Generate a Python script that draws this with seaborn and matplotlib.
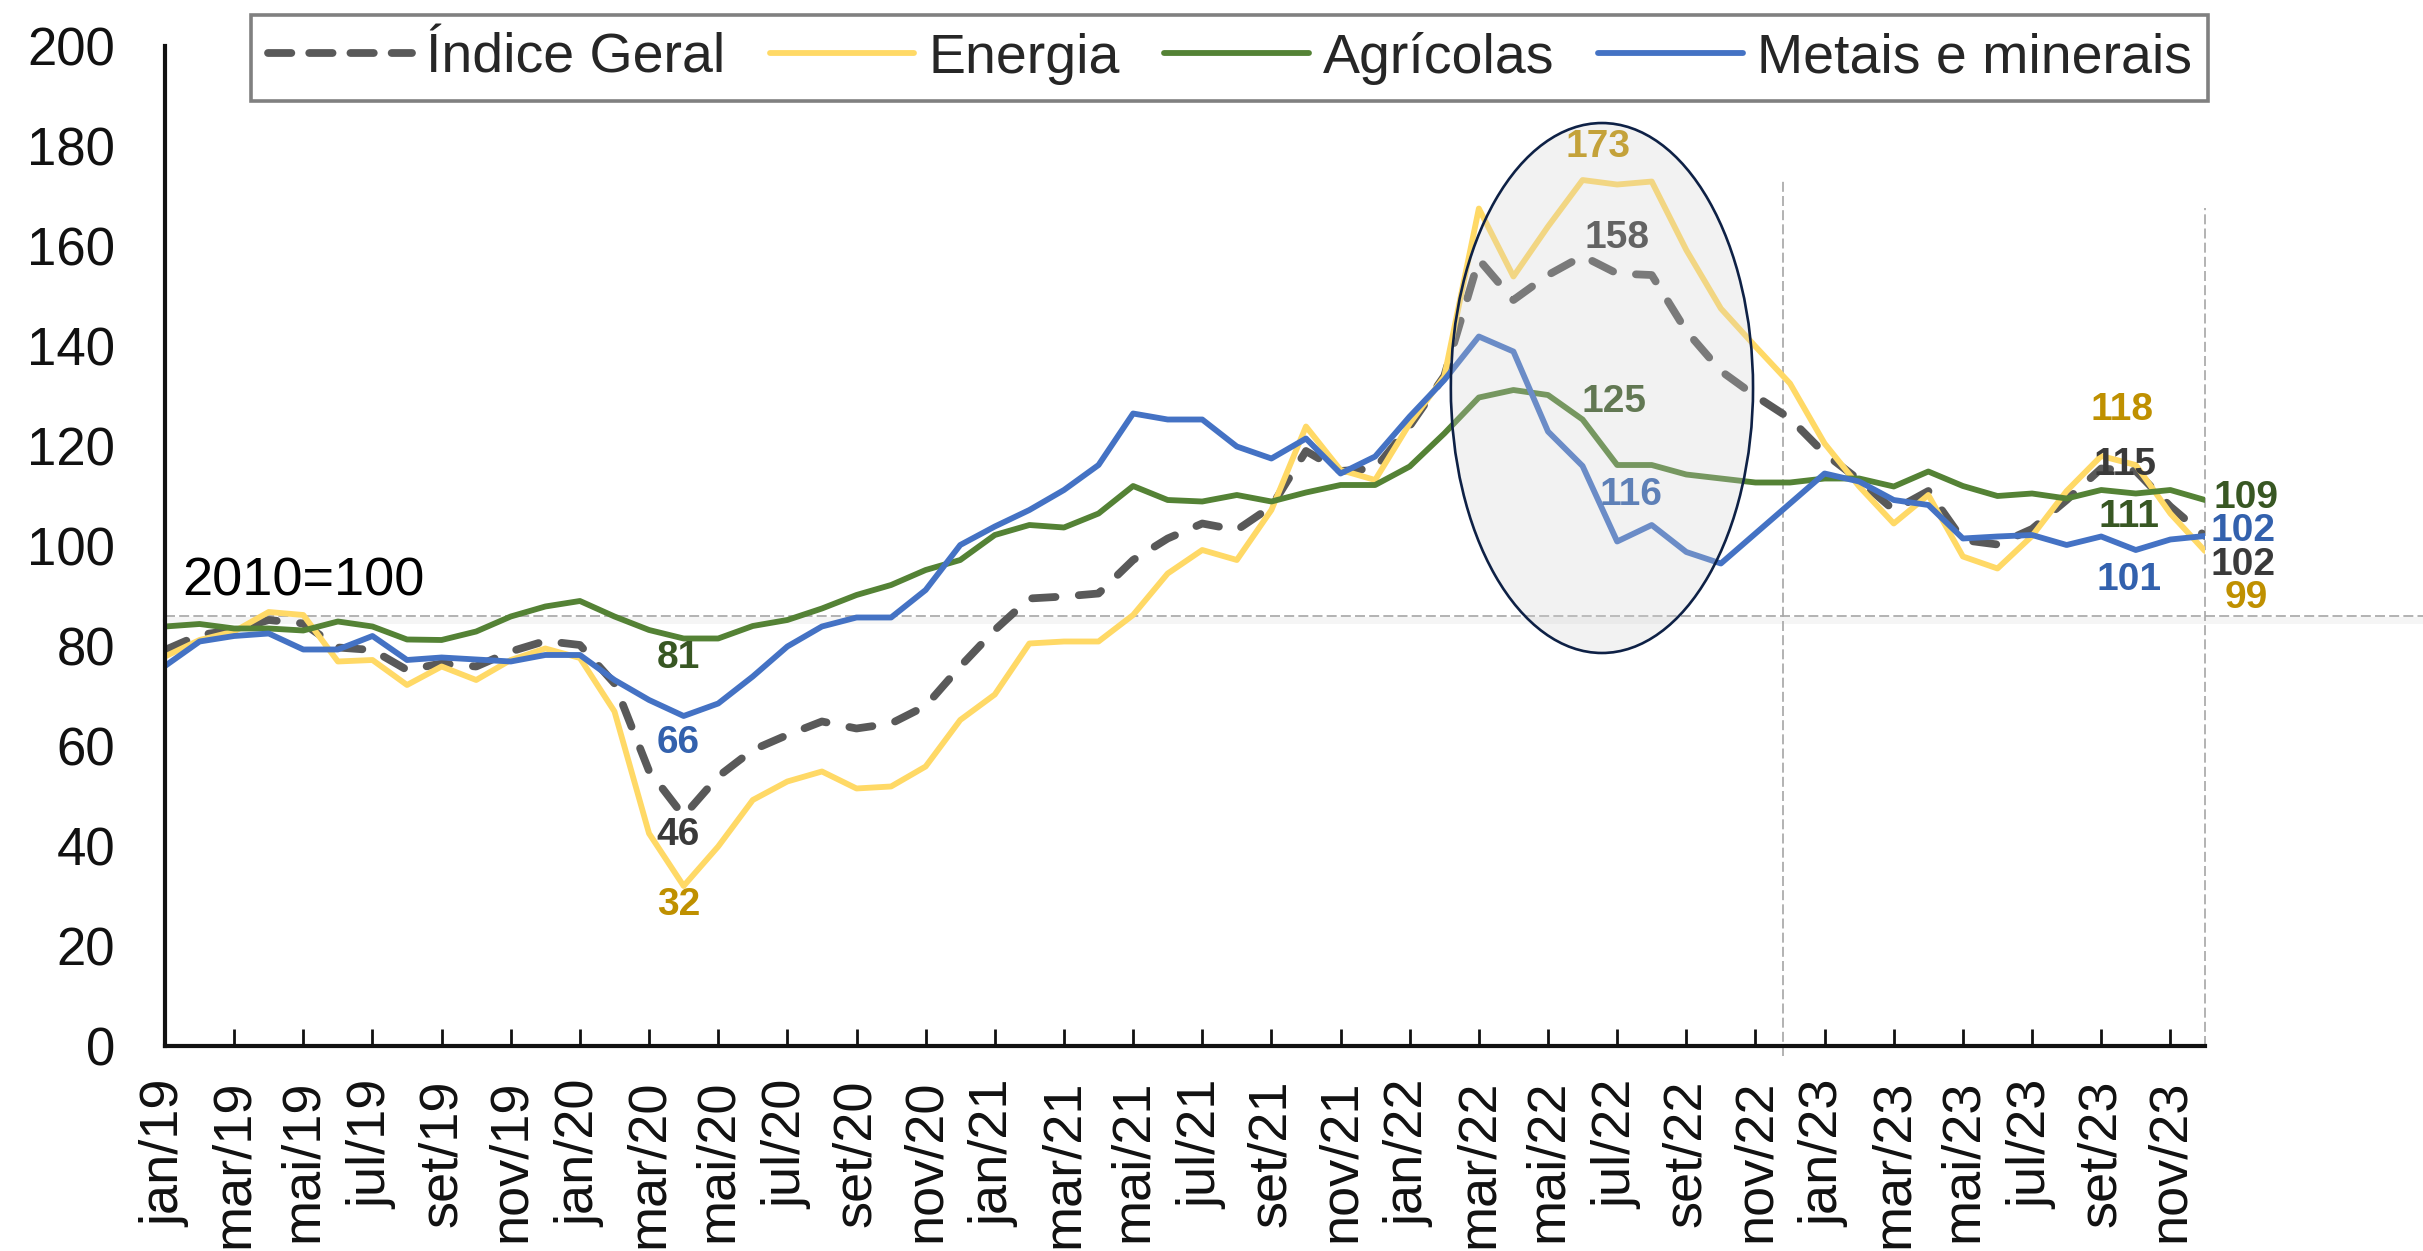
import numpy as np
import pandas as pd
import seaborn as sns
import matplotlib.pyplot as plt
from matplotlib.patches import Ellipse
from matplotlib.lines import Line2D

# monthly series jan/2019 .. dez/2023 (2010=100)
MESES = ["jan", "fev", "mar", "abr", "mai", "jun", "jul", "ago", "set", "out", "nov", "dez"]
ANOS = ["19", "20", "21", "22", "23"]
periodos = [f"{m}/{a}" for a in ANOS for m in MESES]

indice_geral = [
    79.2, 82.2, 83.2, 85.2, 84.5, 79.7, 79.2, 75.2, 76.5, 75.9, 78.9, 81.0,
    80.2, 72.5, 55.0, 46.0, 53.9, 59.2, 62.2, 64.9, 63.5, 64.5, 68.0, 75.9,
    83.2, 89.5, 89.9, 90.5, 97.2, 101.5, 104.5, 103.2, 107.9, 119.0, 115.0, 115.5,
    124.0, 134.0, 157.3, 149.2, 154.2, 158.0, 154.5, 154.2, 143.0, 135.0, 130.0, 125.5,
    118.5, 113.2, 107.2, 111.0, 101.2, 100.3, 103.4, 109.2, 115.5, 115.0, 107.9, 102.0,
]
energia = [
    77.9, 81.2, 82.9, 86.8, 86.2, 76.9, 77.2, 72.2, 75.9, 73.2, 77.2, 79.5,
    77.6, 66.9, 42.5, 32.0, 39.9, 49.2, 52.9, 54.9, 51.5, 51.9, 55.9, 65.2,
    70.3, 80.5, 80.9, 80.9, 86.2, 94.5, 99.2, 97.2, 107.2, 123.9, 115.2, 113.2,
    124.5, 133.9, 167.5, 153.9, 163.9, 173.2, 172.3, 172.9, 159.2, 147.5, 139.9, 132.5,
    120.5, 111.9, 104.5, 110.2, 97.9, 95.5, 102.0, 111.0, 118.0, 116.2, 106.5, 99.0,
]
agricolas = [
    83.9, 84.4, 83.5, 83.5, 83.1, 84.9, 83.9, 81.3, 81.2, 82.9, 85.9, 87.9,
    89.0, 85.9, 83.2, 81.5, 81.5, 84.0, 85.2, 87.5, 90.2, 92.2, 95.2, 97.2,
    102.2, 104.2, 103.7, 106.5, 112.0, 109.2, 108.9, 110.2, 108.9, 110.7, 112.2, 112.2,
    115.9, 122.5, 129.7, 131.2, 130.2, 125.3, 116.2, 116.2, 114.3, 113.5, 112.7, 112.7,
    113.5, 113.5, 111.9, 114.9, 112.0, 110.0, 110.5, 109.5, 111.2, 110.5, 111.2, 109.2,
]
metais = [
    76.0, 80.9, 82.0, 82.5, 79.3, 79.3, 82.0, 77.2, 77.7, 77.3, 76.9, 78.2,
    78.2, 73.2, 69.2, 66.0, 68.5, 73.9, 79.9, 83.9, 85.7, 85.7, 91.2, 100.2,
    103.9, 107.2, 111.2, 116.2, 126.5, 125.3, 125.3, 119.9, 117.5, 121.5, 114.5, 117.9,
    125.9, 133.2, 141.9, 138.9, 122.9, 116.0, 100.9, 104.2, 98.8, 96.5, 102.5, 108.5,
    114.5, 112.9, 109.2, 108.2, 101.5, 101.9, 102.2, 100.2, 101.9, 99.2, 101.3, 102.0,
]

SERIES = ["Índice Geral", "Energia", "Agrícolas", "Metais e minerais"]
CORES = {"Índice Geral": "#595959", "Energia": "#FFD966",
         "Agrícolas": "#548235", "Metais e minerais": "#4472C4"}
CORES_ROTULO = {"Índice Geral": "#3a3a3a", "Energia": "#BF9000",
                "Agrícolas": "#385723", "Metais e minerais": "#3361AD"}

# highlighted values: (series, value, label x, label y)
rotulos = [
    ("Agrícolas", 81, 14.85, 77.6),
    ("Metais e minerais", 66, 14.85, 60.6),
    ("Índice Geral", 46, 14.85, 42.2),
    ("Energia", 32, 14.85, 28.2),
    ("Energia", 173, 41.45, 179.8),
    ("Índice Geral", 158, 42.0, 161.6),
    ("Agrícolas", 125, 41.9, 128.8),
    ("Metais e minerais", 116, 42.4, 110.2),
    ("Energia", 118, 56.6, 127.2),
    ("Índice Geral", 115, 56.7, 116.2),
    ("Agrícolas", 111, 56.8, 105.8),
    ("Metais e minerais", 101, 56.8, 93.2),
    ("Agrícolas", 109, 60.2, 109.6),
    ("Metais e minerais", 102, 60.1, 103.0),
    ("Índice Geral", 102, 60.1, 96.2),
    ("Energia", 99, 60.2, 89.6),
]

df = pd.DataFrame({
    "t": np.tile(np.arange(len(periodos)), 4),
    "serie": np.repeat(SERIES, len(periodos)),
    "valor": indice_geral + energia + agricolas + metais,
})

sns.set_theme(style="white")
plt.rcParams["font.family"] = ["Liberation Sans", "DejaVu Sans"]

fig, ax = plt.subplots(figsize=(24.23, 12.51), dpi=100)
fig.subplots_adjust(left=0.0681, right=0.910, bottom=0.1639, top=0.9632)

LW = 4.2
LW_DASH = 5.6
sns.lineplot(
    data=df, x="t", y="valor", hue="serie", hue_order=SERIES,
    palette=CORES, style="serie", style_order=SERIES,
    dashes={"Índice Geral": (3, 3), "Energia": "", "Agrícolas": "", "Metais e minerais": ""},
    linewidth=LW, legend=False, ax=ax,
)
for ln in ax.lines:
    if ln.get_color().lower() == CORES["Índice Geral"].lower():
        ln.set_linewidth(LW_DASH)
        ln.set_dash_capstyle("round")

# reference lines
ref = dict(color="#a6a6a6", lw=1.2, ls=(0, (6, 2.5)), clip_on=False)
ax.plot([0, 1.107], [85.2, 85.2], color="black", alpha=0.04, lw=5,
        transform=ax.get_yaxis_transform(), clip_on=False, zorder=1)
ax.plot([0, 1.107], [86, 86], transform=ax.get_yaxis_transform(), zorder=1.5, **ref)
ax.plot([46.8, 46.8], [-2, 173], zorder=1.5, **ref)
ax.plot([59, 59], [0, 167.6], zorder=1.5, **ref)

for serie, val, lx, ly in rotulos:
    ax.text(lx, ly, f"{val}", color=CORES_ROTULO[serie], fontsize=28,
            fontweight="bold", ha="center", va="center", zorder=4)

ax.text(0.5, 90, "2010=100", fontsize=39, color="black", ha="left", va="baseline")

ax.add_patch(Ellipse((41.56, 131.6), 8.74, 106, facecolor=(0.82, 0.82, 0.82, 0.28),
                     edgecolor="#0e2146", lw=1.9, zorder=6))

ax.set_xlim(0, len(periodos) - 1)
ax.set_ylim(0, 200)
ax.set_xticks(range(0, len(periodos), 2))
ax.set_xticklabels(periodos[::2], rotation=90, fontsize=39, color="#111111")
ax.set_yticks(range(0, 201, 20))
ax.set_yticklabels([str(v) for v in range(0, 201, 20)], fontsize=38, color="#111111")
ax.tick_params(axis="x", direction="in", length=12, width=2, color="#111111", pad=24, bottom=True)
ax.tick_params(axis="y", length=0, pad=36)
ax.set_xlabel("")
ax.set_ylabel("")
for s in ("top", "right"):
    ax.spines[s].set_visible(False)
for s in ("left", "bottom"):
    ax.spines[s].set_color("#111111")
    ax.spines[s].set_linewidth(3)
ax.grid(False)

# legend handle: four whole dashes across the handle
handles = [
    Line2D([], [], color=CORES["Índice Geral"], lw=LW_DASH, ls=(0, (3, 2.3)), dash_capstyle="round"),
    Line2D([], [], color=CORES["Energia"], lw=LW),
    Line2D([], [], color=CORES["Agrícolas"], lw=LW),
    Line2D([], [], color=CORES["Metais e minerais"], lw=LW),
]
leg = fig.legend(handles, SERIES, loc="center", bbox_to_anchor=(0.5076, 0.9536),
                 ncol=4, fontsize=40, frameon=True, fancybox=False, framealpha=1,
                 handlelength=2.6, handletextpad=0.25, columnspacing=0.8,
                 borderpad=0.3, borderaxespad=0)
leg.get_frame().set_edgecolor("#808080")
leg.get_frame().set_linewidth(2.6)

fig.savefig("out.png", dpi=100, facecolor="white")
